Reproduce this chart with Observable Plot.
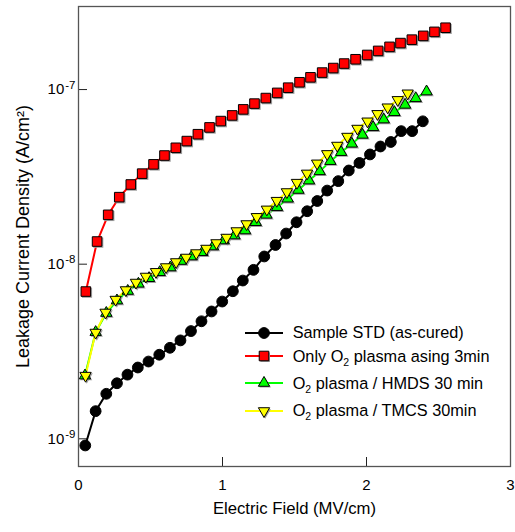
<!DOCTYPE html>
<html><head><meta charset="utf-8">
<script src="https://cdn.jsdelivr.net/npm/d3@7"></script>
<script src="https://cdn.jsdelivr.net/npm/@observablehq/plot@0.6"></script>
<style>
body{margin:0;background:#fff;font-family:"Liberation Sans",Arial,sans-serif;}
#wrap{position:relative;width:515px;height:532px;}
.row{position:absolute;display:flex;align-items:center;font-size:16.3px;white-space:nowrap;height:20px;color:#000;}
.row sub{font-size:10.5px;vertical-align:baseline;position:relative;top:4px;line-height:0;}
</style></head><body><div id="wrap"></div>
<script>
// Electric field (MV/cm) and leakage current density (A/cm2) per sample
const eStd = [0.047,0.119,0.193,0.267,0.340,0.412,0.486,0.561,0.635,0.708,0.781,0.854,0.924,0.998,1.072,1.141,1.215,1.290,1.368,1.442,1.514,1.588,1.658,1.727,1.804,1.877,1.951,2.024,2.097,2.169,2.241,2.317,2.391];
const jStd = [9.16e-10,1.44e-9,1.81e-9,2.08e-9,2.33e-9,2.56e-9,2.77e-9,3.03e-9,3.32e-9,3.66e-9,4.14e-9,4.71e-9,5.36e-9,6.11e-9,7.00e-9,8.06e-9,9.28e-9,1.107e-8,1.288e-8,1.498e-8,1.738e-8,2.01e-8,2.30e-8,2.64e-8,2.99e-8,3.44e-8,3.80e-8,4.25e-8,4.72e-8,5.01e-8,5.78e-8,5.78e-8,6.58e-8];
const eO2 = [0.051,0.129,0.206,0.283,0.363,0.442,0.521,0.597,0.676,0.752,0.829,0.910,0.988,1.067,1.144,1.222,1.301,1.380,1.456,1.535,1.611,1.692,1.769,1.845,1.924,2.005,2.081,2.160,2.236,2.315,2.394,2.472,2.549];
const jO2 = [6.97e-9,1.348e-8,1.917e-8,2.42e-8,2.86e-8,3.30e-8,3.73e-8,4.19e-8,4.64e-8,5.07e-8,5.55e-8,6.07e-8,6.60e-8,7.11e-8,7.70e-8,8.31e-8,8.94e-8,9.57e-8,1.025e-7,1.101e-7,1.175e-7,1.251e-7,1.328e-7,1.409e-7,1.491e-7,1.578e-7,1.665e-7,1.756e-7,1.846e-7,1.931e-7,2.03e-7,2.14e-7,2.26e-7];
const eHMDS = [0.045,0.119,0.193,0.267,0.342,0.416,0.490,0.564,0.638,0.712,0.786,0.860,0.934,1.008,1.083,1.157,1.231,1.305,1.379,1.453,1.527,1.601,1.675,1.749,1.824,1.898,1.972,2.046,2.120,2.194,2.268,2.342,2.417];
const jHMDS = [2.30e-9,4.08e-9,5.25e-9,6.19e-9,7.02e-9,7.72e-9,8.31e-9,8.99e-9,9.57e-9,1.042e-8,1.106e-8,1.170e-8,1.262e-8,1.366e-8,1.459e-8,1.559e-8,1.739e-8,1.917e-8,2.12e-8,2.37e-8,2.66e-8,3.01e-8,3.40e-8,3.89e-8,4.38e-8,4.89e-8,5.50e-8,6.08e-8,6.73e-8,7.41e-8,8.17e-8,8.91e-8,9.74e-8];
const eTMCS = [0.049,0.119,0.188,0.258,0.329,0.399,0.468,0.538,0.608,0.678,0.748,0.818,0.888,0.958,1.028,1.098,1.167,1.238,1.308,1.377,1.447,1.517,1.587,1.657,1.727,1.797,1.867,1.937,2.007,2.076,2.147,2.217,2.286];
const jTMCS = [2.30e-9,4.06e-9,5.29e-9,6.27e-9,7.11e-9,7.85e-9,8.50e-9,9.04e-9,9.63e-9,1.029e-8,1.092e-8,1.158e-8,1.229e-8,1.322e-8,1.421e-8,1.548e-8,1.698e-8,1.867e-8,2.06e-8,2.31e-8,2.59e-8,2.93e-8,3.31e-8,3.78e-8,4.28e-8,4.78e-8,5.38e-8,5.98e-8,6.58e-8,7.26e-8,7.92e-8,8.73e-8,9.52e-8];

const seriesNames = ["Sample STD (as-cured)", "Only O<sub>2</sub> plasma asing 3min", "O<sub>2</sub> plasma / HMDS 30 min", "O<sub>2</sub> plasma / TMCS 30min"];
const seriesColors = ["#000000", "#ff0000", "#00ff00", "#ffff00"];
const xTicks = [0, 1, 2, 3];
const yTicks = [1e-9, 1e-8, 1e-7];
const xLabel = "Electric Field (MV/cm)";
const yLabel = "Leakage Current Density (A/cm²)";

const triDown = {draw(ctx, size){ const y = Math.sqrt(size/(Math.sqrt(3)*3)); ctx.moveTo(0, 2*y); ctx.lineTo(Math.sqrt(3)*y, -y); ctx.lineTo(-Math.sqrt(3)*y, -y); ctx.closePath(); }};
const symbols = [d3.symbolCircle, d3.symbolSquare, d3.symbolTriangle, triDown];
const radii = [5.4, 5.4, 4.2, 4.2];

const toRows = (E, J) => E.map((e, i) => ({E: e, J: J[i]}));
const data = [toRows(eStd, jStd), toRows(eO2, jO2), toRows(eHMDS, jHMDS), toRows(eTMCS, jTMCS)];

const W = 515, H = 532, mL = 78, mR = 5, mT = 6, mB = 66;
const innerW = W - mL - mR, innerH = H - mT - mB;

const lineMarks = data.map((d, k) => Plot.line(d, {x: "E", y: "J", stroke: seriesColors[k], strokeWidth: 2}));
const shadowMarks = data.map((d, k) => k === 0 ? null : Plot.dot(d, {x: "E", y: "J", symbol: symbols[k], r: radii[k] + 0.3, fill: "#a0a0a0", dx: 1.2, dy: 1.2}));
const dotMarks = data.map((d, k) => Plot.dot(d, {x: "E", y: "J", symbol: symbols[k], r: radii[k], fill: seriesColors[k], stroke: "#000", strokeWidth: 1}));

const chart = Plot.plot({
  width: W, height: H,
  marginLeft: mL, marginRight: mR, marginTop: mT, marginBottom: mB,
  style: {fontFamily: "'Liberation Sans', Arial, sans-serif", background: "white", color: "#000"},
  x: {domain: [0, 3]},
  y: {type: "log", domain: [6.94e-10, 2.99e-7]},
  marks: [
    Plot.axisX({ticks: xTicks, tickSize: 0, tickPadding: 13, tickFormat: d => String(d), label: null, fontSize: 15}),
    Plot.axisY({ticks: yTicks, tickSize: 0, tickPadding: 3, tickFormat: d => "10^" + Math.round(Math.log10(d)), label: null, fontSize: 15}),
    Plot.tickX(xTicks, {x: d => d, insetTop: innerH - 9, stroke: "#222"}),
    Plot.tickY(yTicks, {y: d => d, insetRight: innerW - 9, stroke: "#222"}),
    Plot.text([xLabel], {text: d => d, frameAnchor: "bottom", textAnchor: "middle", dy: 47, fontSize: 16.7}),
    Plot.text([yLabel], {text: d => d, frameAnchor: "left", textAnchor: "middle", rotate: -90, dx: -55, fontSize: 18}),
    ...lineMarks,
    ...shadowMarks.filter(Boolean),
    ...dotMarks,
    Plot.frame({stroke: "#555", strokeWidth: 1.3})
  ]
});

// superscript exponents on the y tick labels
chart.querySelectorAll('g[aria-label="y-axis tick label"] text').forEach(t => {
  const parts = t.textContent.split("^");
  if (parts.length === 2) {
    t.textContent = parts[0];
    const ts = document.createElementNS("http://www.w3.org/2000/svg", "tspan");
    ts.setAttribute("dy", "-5.5");
    ts.setAttribute("dx", "1");
    ts.setAttribute("font-size", "11.5");
    ts.textContent = parts[1];
    t.appendChild(ts);
  }
});

const wrap = document.getElementById("wrap");
wrap.appendChild(chart);

// legend overlay
const rowCenters = [332.7, 356, 383, 410.5];
seriesNames.forEach((name, k) => {
  const row = document.createElement("div");
  row.className = "row";
  row.style.left = "245px";
  row.style.top = (rowCenters[k] - 10) + "px";
  const sym = d3.symbol(symbols[k], Math.PI * radii[k] * radii[k])();
  row.innerHTML = `<svg width="39" height="20" style="overflow:visible"><line x1="0" x2="38" y1="10" y2="10" stroke="${seriesColors[k]}" stroke-width="2"/>` +
    (k === 0 ? "" : `<path d="${sym}" transform="translate(20.2,11.2)" fill="#a0a0a0"/>`) +
    `<path d="${sym}" transform="translate(19,10)" fill="${seriesColors[k]}" stroke="#000" stroke-width="1"/></svg>` +
    `<span style="margin-left:8.7px">${name}</span>`;
  wrap.appendChild(row);
});
</script>
</body></html>
